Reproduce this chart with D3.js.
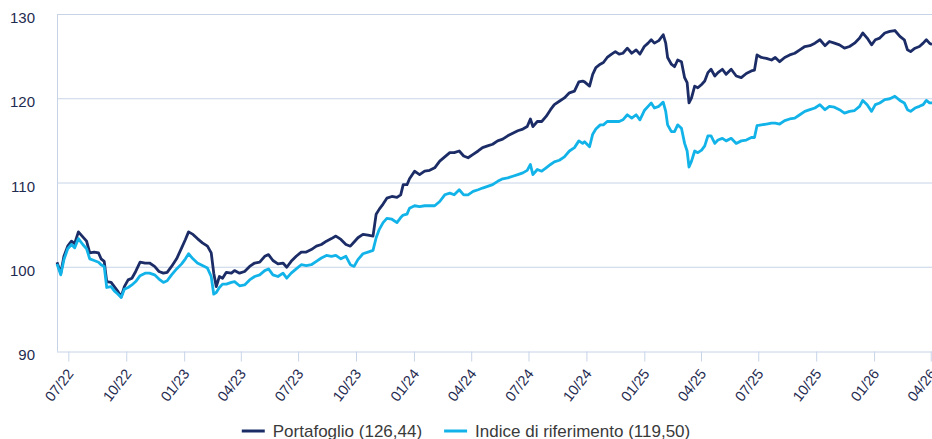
<!DOCTYPE html>
<html>
<head>
<meta charset="utf-8">
<style>
	body { margin: 0; background: #fff; }
	svg text { font-family: "Liberation Sans", Arial, Helvetica, sans-serif; }
</style>
</head>
<body>
<script src="https://cdn.jsdelivr.net/npm/d3@7/dist/d3.min.js"></script>
<script>
	// readings, roughly weekly
	const dates = [
		'2022-06-13','2022-06-19','2022-06-24','2022-06-30','2022-07-06','2022-07-11','2022-07-17','2022-07-24','2022-07-30','2022-08-04',
		'2022-08-11','2022-08-18','2022-08-22','2022-08-27','2022-08-31','2022-09-07','2022-09-12','2022-09-18','2022-09-23','2022-09-28',
		'2022-10-04','2022-10-10','2022-10-16','2022-10-23','2022-10-31','2022-11-07','2022-11-15','2022-11-22','2022-11-29','2022-12-05',
		'2022-12-12','2022-12-20','2022-12-28','2023-01-03','2023-01-08','2023-01-15','2023-01-22','2023-01-30','2023-02-07','2023-02-13',
		'2023-02-17','2023-02-21','2023-02-26','2023-03-03','2023-03-09','2023-03-17','2023-03-22','2023-03-30','2023-04-07','2023-04-15',
		'2023-04-23','2023-05-01','2023-05-09','2023-05-15','2023-05-22','2023-05-30','2023-06-07','2023-06-13','2023-06-20','2023-06-28',
		'2023-07-06','2023-07-14','2023-07-22','2023-07-30','2023-08-07','2023-08-15','2023-08-23','2023-08-30','2023-09-07','2023-09-15',
		'2023-09-22','2023-09-28','2023-10-04','2023-10-12','2023-10-20','2023-10-28','2023-11-02','2023-11-07','2023-11-13','2023-11-19',
		'2023-11-27','2023-12-05','2023-12-11','2023-12-15','2023-12-21','2023-12-25','2024-01-02','2024-01-10','2024-01-18','2024-01-26',
		'2024-02-03','2024-02-11','2024-02-19','2024-02-27','2024-03-05','2024-03-13','2024-03-20','2024-03-27','2024-04-04','2024-04-12',
		'2024-04-19','2024-04-27','2024-05-05','2024-05-13','2024-05-21','2024-05-29','2024-06-06','2024-06-14','2024-06-22','2024-06-29',
		'2024-07-04','2024-07-08','2024-07-15','2024-07-22','2024-07-29','2024-08-05','2024-08-11','2024-08-19','2024-08-27','2024-09-04',
		'2024-09-12','2024-09-19','2024-09-25','2024-09-28','2024-10-06','2024-10-11','2024-10-16','2024-10-23','2024-10-28','2024-11-03',
		'2024-11-10','2024-11-16','2024-11-22','2024-11-28','2024-12-05','2024-12-12','2024-12-19','2024-12-25','2025-01-01','2025-01-07',
		'2025-01-12','2025-01-17','2025-01-24','2025-01-31','2025-02-04','2025-02-07','2025-02-13','2025-02-18','2025-02-23','2025-03-01',
		'2025-03-06','2025-03-10','2025-03-13','2025-03-17','2025-03-22','2025-03-27','2025-04-02','2025-04-07','2025-04-12','2025-04-17',
		'2025-04-23','2025-04-28','2025-05-05','2025-05-11','2025-05-19','2025-05-27','2025-06-04','2025-06-12','2025-06-20','2025-06-25',
		'2025-06-29','2025-07-06','2025-07-14','2025-07-22','2025-07-28','2025-08-04','2025-08-12','2025-08-20','2025-08-28','2025-09-05',
		'2025-09-13','2025-09-21','2025-09-29','2025-10-07','2025-10-15','2025-10-22','2025-10-30','2025-11-07','2025-11-15','2025-11-23',
		'2025-12-01','2025-12-09','2025-12-14','2025-12-21','2025-12-28','2026-01-03','2026-01-10','2026-01-18','2026-01-26','2026-02-03',
		'2026-02-11','2026-02-18','2026-02-23','2026-02-28','2026-03-07','2026-03-14','2026-03-20','2026-03-25','2026-03-30','2026-04-03'
	];

	const portafoglio = [
		100.6, 99.3,101.3,102.5,103.1,102.8,104.2,103.6,103.1,101.7,
		101.8,101.7,101.0,100.7, 98.3, 98.2, 97.7, 97.1, 96.5, 97.7,
		 98.5, 98.7, 99.5,100.6,100.5,100.5,100.1, 99.5, 99.3, 99.4,
		100.1,101.0,102.3,103.3,104.2,103.9,103.4,102.9,102.5,101.7,
		 99.3, 97.7, 98.9, 98.7, 99.4, 99.3, 99.6, 99.3, 99.5,100.1,
		100.5,100.6,101.3,101.5,100.8,100.4,100.5,100.0,100.7,101.3,
		101.8,101.8,102.1,102.5,102.7,103.1,103.4,103.7,103.3,102.7,
		102.5,103.0,103.5,103.9,103.8,103.7,106.3,106.9,107.5,108.2,
		108.4,108.3,108.6,109.8,109.8,110.5,111.4,111.0,111.4,111.5,
		111.8,112.6,113.1,113.6,113.6,113.8,113.2,113.0,113.4,113.8,
		114.2,114.4,114.6,115.0,115.2,115.6,115.9,116.2,116.4,116.7,
		117.6,116.7,117.3,117.3,117.9,118.7,119.3,119.7,120.1,120.7,
		120.9,122.0,122.1,122.0,121.5,122.9,123.7,124.1,124.3,124.9,
		125.3,125.6,125.3,125.4,126.0,125.4,125.8,125.3,126.2,126.6,
		127.0,126.6,126.9,127.6,126.6,124.9,124.1,123.8,124.6,124.4,
		122.5,121.9,119.5,120.1,121.5,121.3,121.7,122.1,123.1,123.5,
		122.7,123.1,123.5,122.9,123.5,122.7,122.5,123.0,123.3,123.4,
		125.2,124.9,124.8,124.6,124.9,124.4,124.9,125.2,125.4,125.8,
		126.2,126.3,126.6,127.0,126.3,126.8,126.6,126.4,126.0,126.2,
		126.6,127.2,127.8,127.2,126.4,127.0,127.2,127.8,128.0,128.1,
		127.4,127.0,125.8,125.6,126.0,126.2,126.6,127.0,126.6,126.44
	];

	const indice = [
		100.4, 99.1,100.9,102.2,102.7,102.3,103.4,102.7,102.2,101.0,
		100.8,100.6,100.3,100.1, 97.6, 97.7, 97.2, 96.8, 96.4, 97.4,
		 97.6, 97.9, 98.3, 99.0, 99.3, 99.3, 99.1, 98.6, 98.2, 98.4,
		 99.1, 99.8,100.4,101.0,101.6,101.0,100.5,100.2, 99.9, 98.9,
		 96.8, 97.0, 97.6, 98.0, 98.0, 98.2, 98.3, 97.8, 97.9, 98.5,
		 98.9, 99.1, 99.6, 99.8, 99.1, 98.9, 99.3, 98.7, 99.3, 99.8,
		100.3,100.2,100.3,100.7,101.1,101.4,101.3,101.4,101.0,101.3,
		100.3,100.1,100.9,101.6,101.8,102.0,103.5,104.5,105.3,105.8,
		105.7,105.3,105.9,106.2,106.3,107.0,107.3,107.2,107.3,107.3,
		107.3,107.8,108.6,108.8,108.6,109.2,108.6,108.6,109.0,109.2,
		109.4,109.6,109.8,110.2,110.5,110.6,110.8,111.0,111.2,111.5,
		112.2,111.0,111.6,111.4,111.8,112.2,112.5,112.7,113.1,113.8,
		114.2,115.0,114.7,114.9,114.3,115.8,116.4,116.9,116.9,117.3,
		117.3,117.3,117.3,117.5,118.1,117.7,118.1,117.5,118.6,119.1,
		119.5,118.9,119.1,119.6,118.5,116.9,116.1,116.1,116.9,116.5,
		114.7,113.8,111.9,112.6,113.8,113.6,113.9,114.4,115.6,115.6,
		114.7,115.1,115.3,115.0,115.3,114.7,115.0,115.1,115.4,115.4,
		116.8,116.9,117.0,117.1,117.1,117.0,117.4,117.6,117.7,118.1,
		118.5,118.7,118.9,119.3,118.7,119.1,119.0,118.7,118.3,118.5,
		118.6,119.1,119.8,119.3,118.5,119.3,119.5,119.9,120.0,120.3,
		119.8,119.5,118.7,118.5,118.9,119.1,119.3,119.8,119.5,119.50
	];

	const yTicks = [90, 100, 110, 120, 130];
	const xTickLabels = ['07/22','10/22','01/23','04/23','07/23','10/23','01/24','04/24',
		'07/24','10/24','01/25','04/25','07/25','10/25','01/26','04/26'];
	const seriesNames = ['Portafoglio (126,44)', 'Indice di riferimento (119,50)'];
	const seriesColors = ['#1b2c66', '#12b3e8'];

	const width = 932;
	const height = 439;
	const plot = { left: 57, right: 932, top: 14.5, bottom: 351.5 };
	const gridColor = '#c7d4e8';
	const labelColor = '#1f2b50';

	const svg = d3.select('body')
		.append('svg')
		.attr('width', width)
		.attr('height', height);

	const parseDay = d3.timeParse('%Y-%m-%d');
	const parseTick = d3.timeParse('%m/%y');

	const data = dates.map((d, i) => ({
		date: parseDay(d),
		p: portafoglio[i],
		b: indice[i]
	}));

	const x = d3.scaleTime()
		.domain(d3.extent(data, d => d.date))
		.range([plot.left, plot.right]);

	const y = d3.scaleLinear()
		.domain([90, 130])
		.range([plot.bottom, plot.top]);

	// horizontal grid
	svg.append('g')
		.selectAll('line')
		.data(yTicks.slice(1))
		.join('line')
		.attr('x1', plot.left)
		.attr('x2', plot.right)
		.attr('y1', d => y(d))
		.attr('y2', d => y(d))
		.attr('stroke', gridColor)
		.attr('stroke-width', 1);

	// left axis line
	svg.append('line')
		.attr('x1', plot.left + 0.5)
		.attr('x2', plot.left + 0.5)
		.attr('y1', plot.top)
		.attr('y2', plot.bottom)
		.attr('stroke', gridColor);

	// y labels
	svg.append('g')
		.selectAll('text')
		.data(yTicks)
		.join('text')
		.attr('x', 35)
		.attr('y', d => y(d) + 8.5)
		.attr('text-anchor', 'end')
		.attr('font-size', 15)
		.attr('fill', labelColor)
		.text(d => d);

	// x axis
	const xAxis = d3.axisBottom(x)
		.tickValues(xTickLabels.map(parseTick))
		.tickFormat(d3.timeFormat('%m/%y'))
		.tickSize(10)
		.tickSizeOuter(0);

	const gx = svg.append('g')
		.attr('transform', `translate(0, ${plot.bottom})`)
		.call(xAxis);

	gx.select('.domain')
		.attr('stroke', gridColor)
		.attr('d', `M${plot.left},0.5H${plot.right}`);
	gx.selectAll('.tick line').attr('stroke', gridColor);
	gx.selectAll('.tick text')
		.attr('x', 0)
		.attr('y', 0)
		.attr('dy', 0)
		.attr('text-anchor', 'end')
		.attr('transform', 'translate(5.5, 22.5) rotate(-52)')
		.attr('font-size', 14.5)
		.attr('font-family', '"Liberation Sans", Arial, sans-serif')
		.attr('fill', labelColor);

	// lines
	const lineP = d3.line().x(d => x(d.date)).y(d => y(d.p));
	const lineB = d3.line().x(d => x(d.date)).y(d => y(d.b));

	svg.append('path')
		.attr('d', lineP(data))
		.attr('fill', 'none')
		.attr('stroke', seriesColors[0])
		.attr('stroke-width', 2.8)
		.attr('stroke-linejoin', 'round');

	svg.append('path')
		.attr('d', lineB(data))
		.attr('fill', 'none')
		.attr('stroke', seriesColors[1])
		.attr('stroke-width', 2.8)
		.attr('stroke-linejoin', 'round');

	// legend
	const legend = svg.append('g');
	const items = legend.selectAll('g')
		.data(seriesNames)
		.join('g');

	items.append('line')
		.attr('x1', 0).attr('x2', 23)
		.attr('y1', 0).attr('y2', 0)
		.attr('stroke', (d, i) => seriesColors[i])
		.attr('stroke-width', 3);

	items.append('text')
		.attr('x', 31)
		.attr('y', 5.5)
		.attr('font-size', 17)
		.attr('fill', '#3a3a3a')
		.text(d => d);

	let offset = 0;
	const widths = [];
	items.each(function () {
		const w = 31 + d3.select(this).select('text').node().getComputedTextLength();
		widths.push(w);
	});
	const total = d3.sum(widths) + 22 * (widths.length - 1);
	items.attr('transform', (d, i) => {
		const tx = width / 2 - total / 2 + offset;
		offset += widths[i] + 22;
		return `translate(${tx}, 431)`;
	});
</script>
</body>
</html>
